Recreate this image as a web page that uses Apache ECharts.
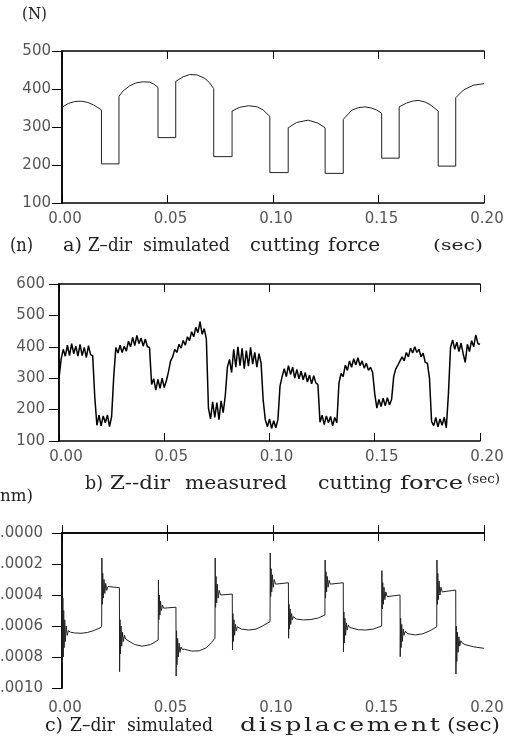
<!DOCTYPE html>
<html>
<head>
<meta charset="utf-8">
<script src="https://cdn.jsdelivr.net/npm/echarts@6/dist/echarts.min.js"></script>
<style>
  html, body { margin: 0; padding: 0; background: #fff; }
  #chart { width: 516px; height: 745px; }
</style>
</head>
<body>
<div id="chart"></div>
<script>
// a) simulated cutting force (N): [t, force]
const simForce = [
  [0, 352], [0.003, 362], [0.006, 367], [0.009, 368], [0.012, 365], [0.015, 358], [0.0187, 345],
  [0.0187, 203], [0.027, 203],
  [0.027, 381], [0.029, 395], [0.032, 408], [0.035, 416], [0.0385, 419], [0.0415, 418], [0.0435, 413], [0.0455, 404],
  [0.0455, 272], [0.0539, 272],
  [0.0539, 420], [0.0574, 432], [0.0605, 438], [0.064, 437], [0.0677, 428], [0.070, 416], [0.0719, 401],
  [0.0719, 222], [0.0806, 222],
  [0.0806, 342], [0.0843, 352], [0.0885, 356], [0.0925, 353], [0.0953, 345], [0.0985, 328],
  [0.0985, 180], [0.1072, 180],
  [0.1072, 298], [0.1112, 312], [0.1167, 318], [0.1214, 310], [0.1247, 298],
  [0.1247, 178], [0.1333, 178],
  [0.1333, 320], [0.1373, 344], [0.1405, 351], [0.1436, 353], [0.1465, 350], [0.1491, 345], [0.1515, 336],
  [0.1515, 218], [0.1598, 218],
  [0.1598, 353], [0.1633, 363], [0.166, 368], [0.1688, 370], [0.172, 366], [0.1744, 359], [0.1783, 342],
  [0.1783, 197], [0.1866, 197],
  [0.1866, 377], [0.1902, 397], [0.1949, 410], [0.2, 414]
];

// b) measured cutting force (N), one sample every measStep seconds from t = 0
const measStep = 0.001;
const measForce = [
  300, 360, 392, 370, 405, 372, 410, 378, 402, 370,
  408, 372, 398, 366, 404, 375, 372, 240, 150, 182,
  148, 180, 158, 183, 146, 178, 305, 398, 380, 405,
  382, 402, 386, 418, 400, 430, 404, 436, 410, 428,
  402, 425, 400, 398, 280, 298, 262, 296, 268, 300,
  270, 292, 320, 355, 368, 392, 382, 408, 396, 420,
  405, 432, 420, 448, 432, 462, 445, 480, 440, 458,
  425, 205, 170, 225, 175, 222, 168, 228, 190, 245,
  335, 360, 318, 392, 335, 400, 340, 395, 330, 388,
  338, 398, 345, 382, 335, 378, 348, 230, 168, 145,
  170, 140, 165, 142, 168, 275, 305, 330, 305, 340,
  312, 335, 300, 328, 298, 322, 295, 318, 288, 310,
  282, 308, 285, 280, 160, 182, 152, 180, 158, 178,
  148, 175, 158, 285, 315, 305, 342, 325, 355, 335,
  362, 342, 365, 340, 355, 332, 348, 325, 335, 318,
  250, 205, 232, 210, 236, 212, 238, 215, 232, 305,
  330, 342, 355, 368, 355, 382, 368, 396, 380, 400,
  382, 392, 368, 380, 350, 348, 300, 162, 148, 175,
  145, 170, 150, 176, 142, 250, 398, 422, 392, 415,
  385, 412, 378, 350, 408, 385, 420, 400, 438, 410,
  408
];

// c) simulated displacement (mm): [t, z]
const simDisp = [
  [0, -3.5e-4], [0.0002, -8.4e-4], [0.0004, -4.2e-4], [0.0006, -8.0e-4], [0.0008, -5.0e-4], [0.001, -7.4e-4],
  [0.0013, -5.6e-4], [0.0016, -7.0e-4], [0.002, -6.0e-4], [0.0025, -6.6e-4], [0.003, -6.3e-4], [0.004, -6.4e-4],
  [0.006, -6.45e-4], [0.009, -6.47e-4], [0.012, -6.42e-4], [0.015, -6.3e-4], [0.0175, -6.15e-4], [0.0188, -6.05e-4],
  [0.0189, -1.61e-4], [0.0191, -4.6e-4], [0.0193, -2.6e-4], [0.0196, -4.2e-4], [0.0199, -3.0e-4], [0.0203, -3.9e-4],
  [0.0207, -3.25e-4], [0.0212, -3.7e-4], [0.0218, -3.45e-4], [0.0225, -3.55e-4], [0.0272, -3.53e-4],
  [0.0273, -8.95e-4], [0.0275, -5.6e-4], [0.0277, -7.8e-4], [0.028, -6.0e-4], [0.0283, -7.3e-4], [0.0287, -6.4e-4],
  [0.0291, -7.0e-4], [0.0296, -6.6e-4], [0.0302, -6.85e-4], [0.031, -6.8e-4], [0.0345, -7.2e-4], [0.038, -7.3e-4],
  [0.042, -7.2e-4], [0.0456, -6.9e-4],
  [0.0457, -3.03e-4], [0.0459, -5.6e-4], [0.0461, -4.0e-4], [0.0464, -5.3e-4], [0.0467, -4.4e-4], [0.0471, -5.0e-4],
  [0.0476, -4.65e-4], [0.0482, -4.85e-4], [0.049, -4.78e-4], [0.054, -4.79e-4],
  [0.0541, -9.23e-4], [0.0543, -6.3e-4], [0.0545, -8.5e-4], [0.0548, -6.8e-4], [0.0551, -8.0e-4], [0.0555, -7.1e-4],
  [0.0559, -7.7e-4], [0.0564, -7.35e-4], [0.057, -7.5e-4], [0.058, -7.5e-4], [0.0615, -7.62e-4], [0.065, -7.6e-4],
  [0.0685, -7.4e-4], [0.071, -7.05e-4], [0.0725, -6.79e-4],
  [0.0726, -1.61e-4], [0.0728, -4.8e-4], [0.073, -2.8e-4], [0.0733, -4.5e-4], [0.0736, -3.3e-4], [0.074, -4.2e-4],
  [0.0745, -3.7e-4], [0.0751, -4.0e-4], [0.0758, -3.92e-4], [0.0807, -3.94e-4],
  [0.0808, -7.55e-4], [0.081, -5.2e-4], [0.0812, -7.0e-4], [0.0815, -5.6e-4], [0.0818, -6.6e-4], [0.0822, -5.9e-4],
  [0.0826, -6.3e-4], [0.0831, -6.05e-4], [0.0838, -6.15e-4], [0.085, -6.2e-4], [0.0885, -6.26e-4], [0.092, -6.2e-4],
  [0.095, -6.0e-4], [0.0986, -5.72e-4],
  [0.0987, -1.29e-4], [0.0989, -4.1e-4], [0.0991, -2.3e-4], [0.0994, -3.8e-4], [0.0997, -2.7e-4], [0.1001, -3.5e-4],
  [0.1006, -3.0e-4], [0.1012, -3.3e-4], [0.1019, -3.2e-4], [0.1073, -3.21e-4],
  [0.1074, -6.79e-4], [0.1076, -4.6e-4], [0.1078, -6.2e-4], [0.1081, -4.9e-4], [0.1084, -5.9e-4], [0.1088, -5.2e-4],
  [0.1092, -5.6e-4], [0.1097, -5.4e-4], [0.1104, -5.5e-4], [0.111, -5.55e-4], [0.1145, -5.61e-4], [0.118, -5.58e-4],
  [0.1215, -5.48e-4], [0.1246, -5.29e-4],
  [0.1247, -1.74e-4], [0.1249, -4.2e-4], [0.1251, -2.5e-4], [0.1254, -3.8e-4], [0.1257, -2.8e-4], [0.1261, -3.5e-4],
  [0.1266, -3.05e-4], [0.1272, -3.3e-4], [0.1279, -3.2e-4], [0.1333, -3.21e-4],
  [0.1334, -7.66e-4], [0.1336, -5.1e-4], [0.1338, -7.1e-4], [0.1341, -5.5e-4], [0.1344, -6.6e-4], [0.1348, -5.8e-4],
  [0.1352, -6.25e-4], [0.1357, -5.95e-4], [0.1364, -6.1e-4], [0.137, -6.1e-4], [0.1405, -6.24e-4], [0.144, -6.26e-4],
  [0.1475, -6.2e-4], [0.1515, -6.0e-4],
  [0.1516, -2.43e-4], [0.1518, -4.9e-4], [0.152, -3.2e-4], [0.1523, -4.6e-4], [0.1526, -3.5e-4], [0.153, -4.3e-4],
  [0.1535, -3.8e-4], [0.1541, -4.1e-4], [0.1548, -4.0e-4], [0.1602, -4.0e-4],
  [0.1603, -7.98e-4], [0.1605, -5.5e-4], [0.1607, -7.4e-4], [0.161, -5.9e-4], [0.1613, -7.0e-4], [0.1617, -6.2e-4],
  [0.1621, -6.6e-4], [0.1626, -6.35e-4], [0.1633, -6.45e-4], [0.164, -6.5e-4], [0.1675, -6.58e-4], [0.171, -6.5e-4],
  [0.1745, -6.3e-4], [0.1776, -6.05e-4],
  [0.1777, -1.74e-4], [0.1779, -4.6e-4], [0.1781, -2.6e-4], [0.1784, -4.3e-4], [0.1787, -3.1e-4], [0.1791, -4.0e-4],
  [0.1796, -3.5e-4], [0.1802, -3.8e-4], [0.1809, -3.68e-4], [0.1866, -3.68e-4],
  [0.1867, -9.1e-4], [0.1869, -6.0e-4], [0.1871, -8.3e-4], [0.1874, -6.4e-4], [0.1877, -7.7e-4], [0.1881, -6.7e-4],
  [0.1885, -7.3e-4], [0.189, -6.95e-4], [0.1897, -7.1e-4], [0.191, -7.2e-4], [0.195, -7.34e-4], [0.2, -7.44e-4]
];

// caption words: text, left, right, top, font size
const captions = [
  ['(N)', 22, 47, 7, 16],
  ['(n)', 10, 33, 237, 18], ['a)', 63, 82, 237, 18], ['Z–dir', 88, 132, 237, 18],
  ['simulated', 143, 230, 237, 18], ['cutting', 250, 320, 237, 18], ['force', 328, 380, 237, 18],
  ['(sec)', 433, 483, 239, 15],
  ['b)', 85, 103, 475, 18], ['Z--dir', 110, 170, 475, 18], ['measured', 185, 287, 475, 18],
  ['cutting', 318, 392, 475, 18], ['force', 400, 463, 475, 18], ['(sec)', 467, 500, 474, 12],
  ['nm)', 0, 33, 489, 16],
  ['c)', 45, 63, 717, 18], ['Z–dir', 70, 115, 717, 18], ['simulated', 127, 213, 717, 18],
  ['displacement', 240, 440, 717, 18], ['(sec)', 447, 500, 717, 18]
];

const tickFont = { fontFamily: 'DejaVu Sans', fontSize: 15, color: '#555' };
const serif = '"DejaVu Serif", "Liberation Serif", serif';

function timeAxes(gridIndex, labelMargin, shift) {
  const base = { type: 'value', gridIndex, min: 0, max: 0.2, interval: 0.05,
    splitLine: { show: false },
    axisLine: { lineStyle: { color: '#000', width: 1.5 } } };
  return [
    Object.assign({}, base, { position: 'bottom',
      axisTick: { inside: true, length: 8, lineStyle: { color: '#000' } },
      axisLabel: Object.assign({ margin: labelMargin, padding: [0, 0, 0, shift * 2],
        formatter: v => v.toFixed(2) }, tickFont) }),
    Object.assign({}, base, { position: 'top',
      axisTick: { inside: true, length: 8, lineStyle: { color: '#000' } },
      axisLabel: { show: false } })
  ];
}

function valueAxes(gridIndex, min, max, interval, labelMargin, formatter) {
  const base = { type: 'value', gridIndex, min, max, interval,
    splitLine: { show: false },
    axisLine: { show: true, lineStyle: { color: '#000', width: 1.5 } } };
  return [
    Object.assign({}, base, { position: 'left',
      axisTick: { inside: false, length: 7, lineStyle: { color: '#000' } },
      axisLabel: Object.assign({ margin: labelMargin, formatter }, tickFont) }),
    Object.assign({}, base, { position: 'right',
      axisTick: { inside: true, length: 10, lineStyle: { color: '#000' } },
      axisLabel: { show: false } })
  ];
}

const dispLabel = v => '.' + Math.abs(v).toFixed(4).split('.')[1];

// the scanned captions use a wide, loosely spaced face: widen the glyphs
// and spread the rest of each word's span over the gaps between its letters
const measureCtx = document.createElement('canvas').getContext('2d');
function spacedWord([text, x0, x1, top, size]) {
  const font = size + 'px ' + serif;
  measureCtx.font = font;
  const chars = Array.from(text);
  const widths = chars.map(c => measureCtx.measureText(c).width);
  const natural = widths.reduce((a, b) => a + b, 0);
  const k = Math.max(0.9, Math.min(1.4, (x1 - x0) / natural));
  const gap = chars.length > 1 ? ((x1 - x0) - natural * k) / (chars.length - 1) : 0;
  let x = x0;
  return chars.map((c, i) => {
    const el = { type: 'text', x, y: top, scaleX: k, silent: true,
      style: { text: c, font, fill: '#222' } };
    x += widths[i] * k + gap;
    return el;
  });
}

const lineBase = { type: 'line', symbol: 'none', animation: false };

const chart = echarts.init(document.getElementById('chart'), null, { renderer: 'canvas' });
chart.setOption({
  animation: false,
  backgroundColor: '#fff',
  grid: [
    { left: 62, top: 51, width: 422, height: 152, outerBoundsMode: 'none' },
    { left: 59, top: 284, width: 421, height: 157, outerBoundsMode: 'none' },
    { left: 62, top: 533, width: 422, height: 155, outerBoundsMode: 'none' }
  ],
  xAxis: [].concat(timeAxes(0, 9, 3), timeAxes(1, 9, 7), timeAxes(2, 13, 3)),
  yAxis: [].concat(
    valueAxes(0, 100, 500, 100, 11, v => String(v)),
    valueAxes(1, 100, 600, 100, 14, v => String(v)),
    valueAxes(2, -0.001, 0, 0.0002, 19, dispLabel)
  ),
  series: [
    Object.assign({}, lineBase, { xAxisIndex: 0, yAxisIndex: 0, data: simForce,
      lineStyle: { color: '#222', width: 1 } }),
    Object.assign({}, lineBase, { xAxisIndex: 2, yAxisIndex: 2,
      data: measForce.map((v, i) => [i * measStep, v]),
      lineStyle: { color: '#000', width: 1.5 } }),
    Object.assign({}, lineBase, { xAxisIndex: 4, yAxisIndex: 4, data: simDisp,
      lineStyle: { color: '#222', width: 1 } })
  ],
  graphic: [].concat(...captions.map(spacedWord))
});
</script>
</body>
</html>
